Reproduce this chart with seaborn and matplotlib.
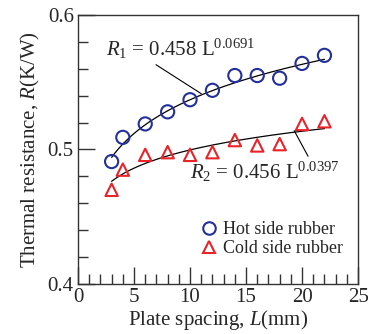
import numpy as np
import pandas as pd
import matplotlib
matplotlib.use("Agg")
import matplotlib.pyplot as plt
import seaborn as sns
from matplotlib.ticker import MultipleLocator
from matplotlib.lines import Line2D

sns.set_style("ticks")
plt.rcParams["font.family"] = ["Liberation Serif", "DejaVu Serif"]
plt.rcParams["mathtext.fontset"] = "custom"
plt.rcParams["mathtext.rm"] = "Liberation Serif"
plt.rcParams["mathtext.it"] = "Liberation Serif:italic"

# Measured thermal resistance vs plate spacing
spacing = [3, 4, 6, 8, 10, 12, 14, 16, 18, 20, 22]
hot_r = [0.491, 0.509, 0.519, 0.528, 0.537, 0.544, 0.555, 0.555, 0.553, 0.564, 0.570]
cold_r = [0.470, 0.485, 0.496, 0.498, 0.496, 0.498, 0.507, 0.503, 0.504, 0.519, 0.521]

# Power-law fit coefficients R = a * L^b
hot_fit = (0.458, 0.0691)
cold_fit = (0.456, 0.0397)

df = pd.DataFrame({"L": spacing, "hot": hot_r, "cold": cold_r})
Lf = np.linspace(min(spacing), max(spacing), 200)
fit_df = pd.DataFrame({
    "L": Lf,
    "hot": hot_fit[0] * Lf ** hot_fit[1],
    "cold": cold_fit[0] * Lf ** cold_fit[1],
})

blue = "#232f9b"
red = "#e8232a"

fig = plt.figure(figsize=(3.68, 3.34), dpi=100)
ax = fig.add_axes([0.212, 0.150, 0.761, 0.805])

sns.lineplot(data=fit_df, x="L", y="hot", ax=ax, color="black", lw=0.9)
sns.lineplot(data=fit_df, x="L", y="cold", ax=ax, color="black", lw=0.9)
sns.scatterplot(data=df, x="L", y="hot", ax=ax, marker="o", s=90,
                facecolor="none", edgecolor=blue, linewidth=1.5, zorder=3)
sns.scatterplot(data=df, x="L", y="cold", ax=ax, marker="^", s=80,
                facecolor="none", edgecolor=red, linewidth=1.5, zorder=3)

ax.set_xlim(0, 25)
ax.set_ylim(0.4, 0.6)
ax.xaxis.set_major_locator(MultipleLocator(5))
ax.xaxis.set_minor_locator(MultipleLocator(1))
ax.yaxis.set_major_locator(MultipleLocator(0.1))
ax.yaxis.set_minor_locator(MultipleLocator(0.02))
ax.tick_params(which="both", direction="in", top=False, right=False,
               labelsize=15, color="#333333")
ax.tick_params(which="major", length=12, width=1.0, pad=3)
ax.tick_params(which="minor", length=7, width=1.0)
for s in ax.spines.values():
    s.set_linewidth(1.0)
    s.set_color("#333333")

ax.set_xlabel(r"Plate spacing, $\mathit{L}$(mm)", fontsize=15, labelpad=1)
ax.set_ylabel(r"Thermal resistance, $\mathit{R}$(K/W)", fontsize=15, labelpad=4)

# Fit equations with leader lines
ax.annotate(r"$\mathit{R}_1$ = 0.458 L$^{0.0691}$", xy=(11, 0.5415),
            xytext=(2.5, 0.5655), fontsize=15, ha="left", va="bottom",
            arrowprops=dict(arrowstyle="-", color="black", lw=0.8,
                            shrinkA=0, shrinkB=0, relpos=(0.3, 0.0)))
ax.annotate(r"$\mathit{R}_2$ = 0.456 L$^{0.0397}$", xy=(19.3, 0.514),
            xytext=(10, 0.4835), fontsize=15, ha="left", va="center",
            arrowprops=dict(arrowstyle="-", color="black", lw=0.8,
                            shrinkA=0, shrinkB=0, relpos=(0.8, 1.0)))

handles = [
    Line2D([], [], ls="none", marker="o", ms=9, mfc="none", mec=blue, mew=1.5),
    Line2D([], [], ls="none", marker="^", ms=9, mfc="none", mec=red, mew=1.5),
]
ax.legend(handles, ["Hot side rubber", "Cold side rubber"], loc="lower right",
          bbox_to_anchor=(0.985, 0.06), frameon=False, fontsize=13,
          handletextpad=0.3, labelspacing=0.1, handlelength=1.0,
          borderaxespad=0.2)

fig.savefig("out.png", dpi=100)
